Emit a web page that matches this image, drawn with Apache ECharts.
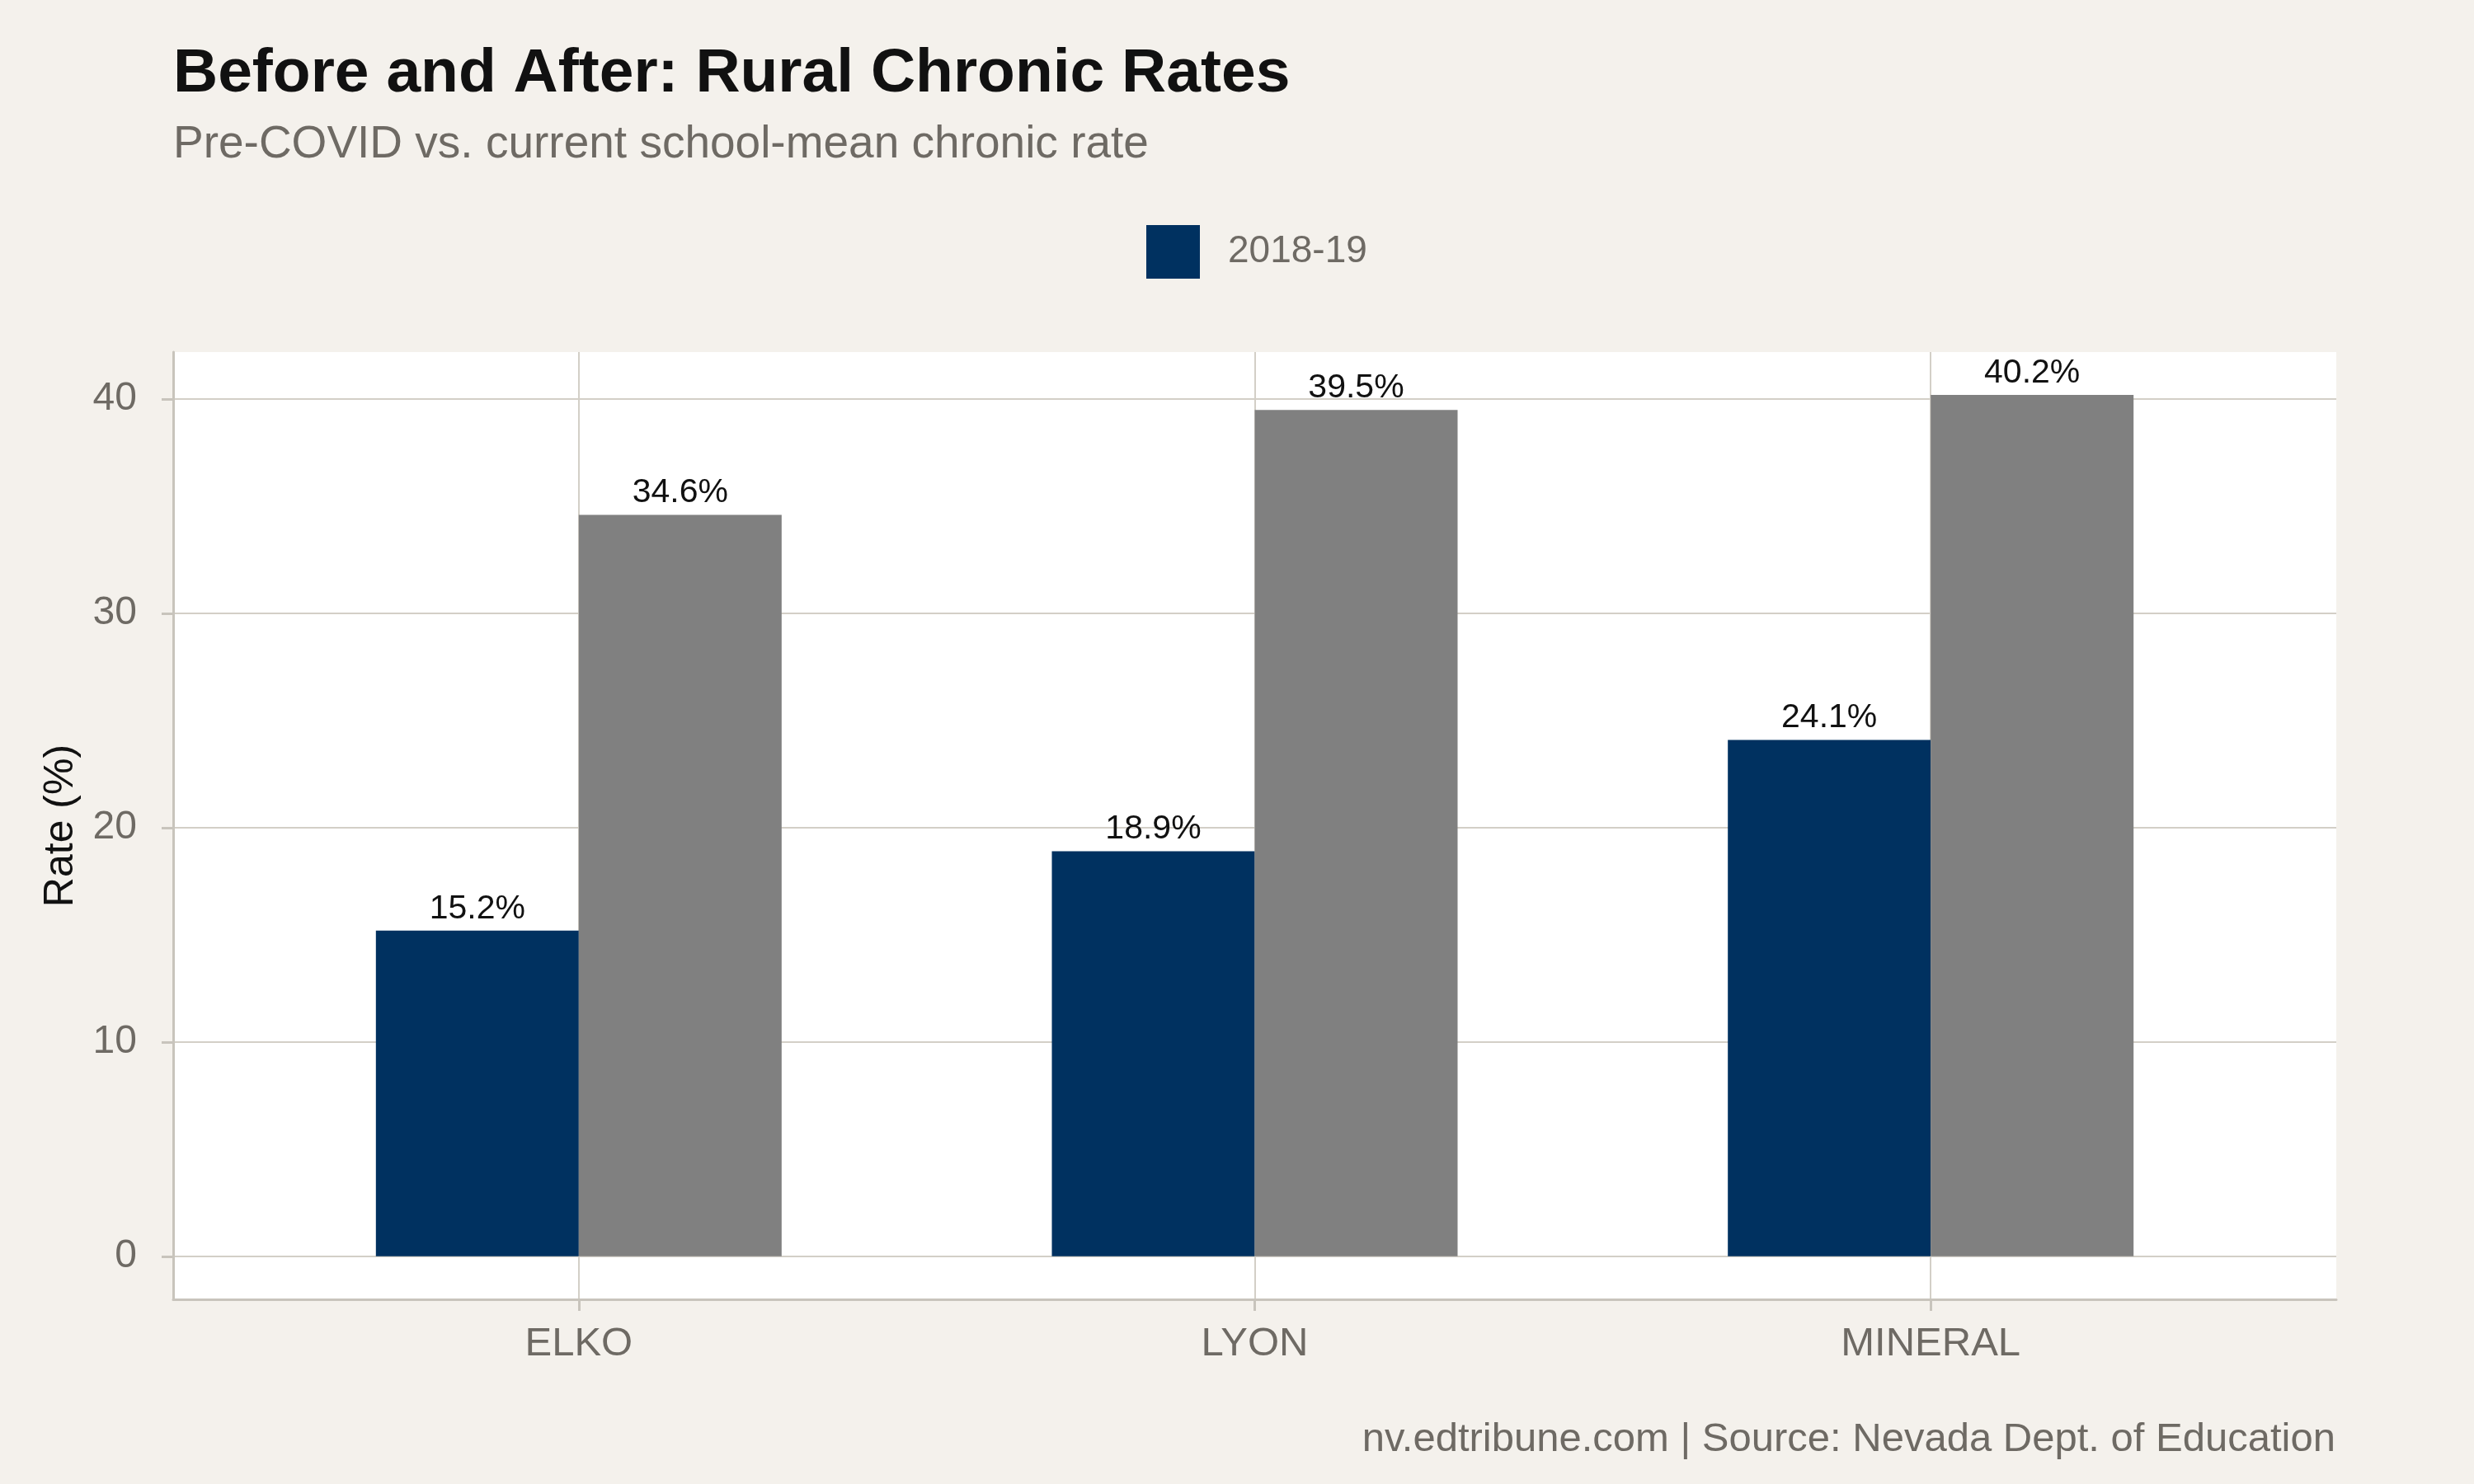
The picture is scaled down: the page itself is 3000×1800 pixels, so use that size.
<!DOCTYPE html>
<html><head><meta charset="utf-8">
<script src="https://cdn.jsdelivr.net/npm/echarts@6/dist/echarts.min.js"></script>
<style>html,body{margin:0;padding:0;background:#F4F1EC}#c{width:3000px;height:1800px}</style>
</head><body><div id="c"></div>
<script>
const categories = ['ELKO', 'LYON', 'MINERAL'];
const preCovid = [15.2, 18.9, 24.1];
const current = [34.6, 39.5, 40.2];
const yTicks = [0, 10, 20, 30, 40];
const seriesNames = ['2018-19', 'Current'];

const FONT = 'Liberation Sans';
const GRID_COLOR = '#D3CFC7';
const AXIS_COLOR = '#C8C4BC';
const LABEL_GREY = '#6E6A64';
const catPos = categories.map((c, i) => i + 1);

const chart = echarts.init(document.getElementById('c'), null, {renderer: 'canvas'});
chart.setOption({
  backgroundColor: '#F4F1EC',
  animation: false,
  textStyle: {fontFamily: FONT},
  title: [
    {text: 'Before and After: Rural Chronic Rates', left: 210, top: 53, padding: 0,
     textStyle: {fontFamily: FONT, fontSize: 75, fontWeight: 'bold', color: '#111111'}},
    {text: 'Pre-COVID vs. current school-mean chronic rate', left: 210, top: 148, padding: 0,
     textStyle: {fontFamily: FONT, fontSize: 55, fontWeight: 'normal', color: LABEL_GREY}},
    {text: 'nv.edtribune.com | Source: Nevada Dept. of Education', right: 168, top: 1722, padding: 0,
     textStyle: {fontFamily: FONT, fontSize: 49, fontWeight: 'normal', color: LABEL_GREY}}
  ],
  legend: {
    data: [seriesNames[0]], left: 1390, top: 273, padding: 0, icon: 'rect',
    itemWidth: 65, itemHeight: 65, selectedMode: false,
    textStyle: {fontFamily: FONT, fontSize: 46, color: LABEL_GREY, padding: [0, 0, 0, 29]}
  },
  grid: {left: 210, right: 167, top: 427, bottom: 224, show: true,
         backgroundColor: '#FFFFFF', borderWidth: 0},
  xAxis: {
    type: 'value', min: 0.4, max: 3.6,
    axisLine: {show: true, onZero: false, lineStyle: {color: AXIS_COLOR, width: 3}},
    axisTick: {show: true, length: 14, customValues: catPos, lineStyle: {color: AXIS_COLOR, width: 3}},
    axisLabel: {customValues: catPos, margin: 30, fontFamily: FONT, fontSize: 49, color: LABEL_GREY,
                formatter: v => categories[Math.round(v) - 1] || ''},
    splitLine: {show: true, lineStyle: {color: GRID_COLOR, width: 2}}
  },
  yAxis: {
    type: 'value', min: -2.01, max: 42.2,
    name: 'Rate (%)', nameLocation: 'middle', nameGap: 111,
    nameTextStyle: {fontFamily: FONT, fontSize: 50, color: '#111111'},
    axisLine: {show: true, lineStyle: {color: AXIS_COLOR, width: 3}},
    axisTick: {show: true, length: 14, customValues: yTicks, lineStyle: {color: AXIS_COLOR, width: 3}},
    axisLabel: {customValues: yTicks, margin: 44, fontFamily: FONT, fontSize: 48, color: LABEL_GREY},
    splitLine: {show: true, lineStyle: {color: GRID_COLOR, width: 2}}
  },
  series: [
    {name: seriesNames[0], type: 'bar', barWidth: 246, barGap: '0%',
     itemStyle: {color: '#003160'},
     data: preCovid.map((v, i) => [catPos[i], v]),
     label: {show: true, position: 'top', distance: 6, fontFamily: FONT, fontSize: 41, color: '#111111',
             formatter: p => p.value[1].toFixed(1) + '%'}},
    {name: seriesNames[1], type: 'bar', barWidth: 246, barGap: '0%',
     itemStyle: {color: '#808080'},
     data: current.map((v, i) => [catPos[i], v]),
     label: {show: true, position: 'top', distance: 6, fontFamily: FONT, fontSize: 41, color: '#111111',
             formatter: p => p.value[1].toFixed(1) + '%'}}
  ]
});
</script></body></html>
